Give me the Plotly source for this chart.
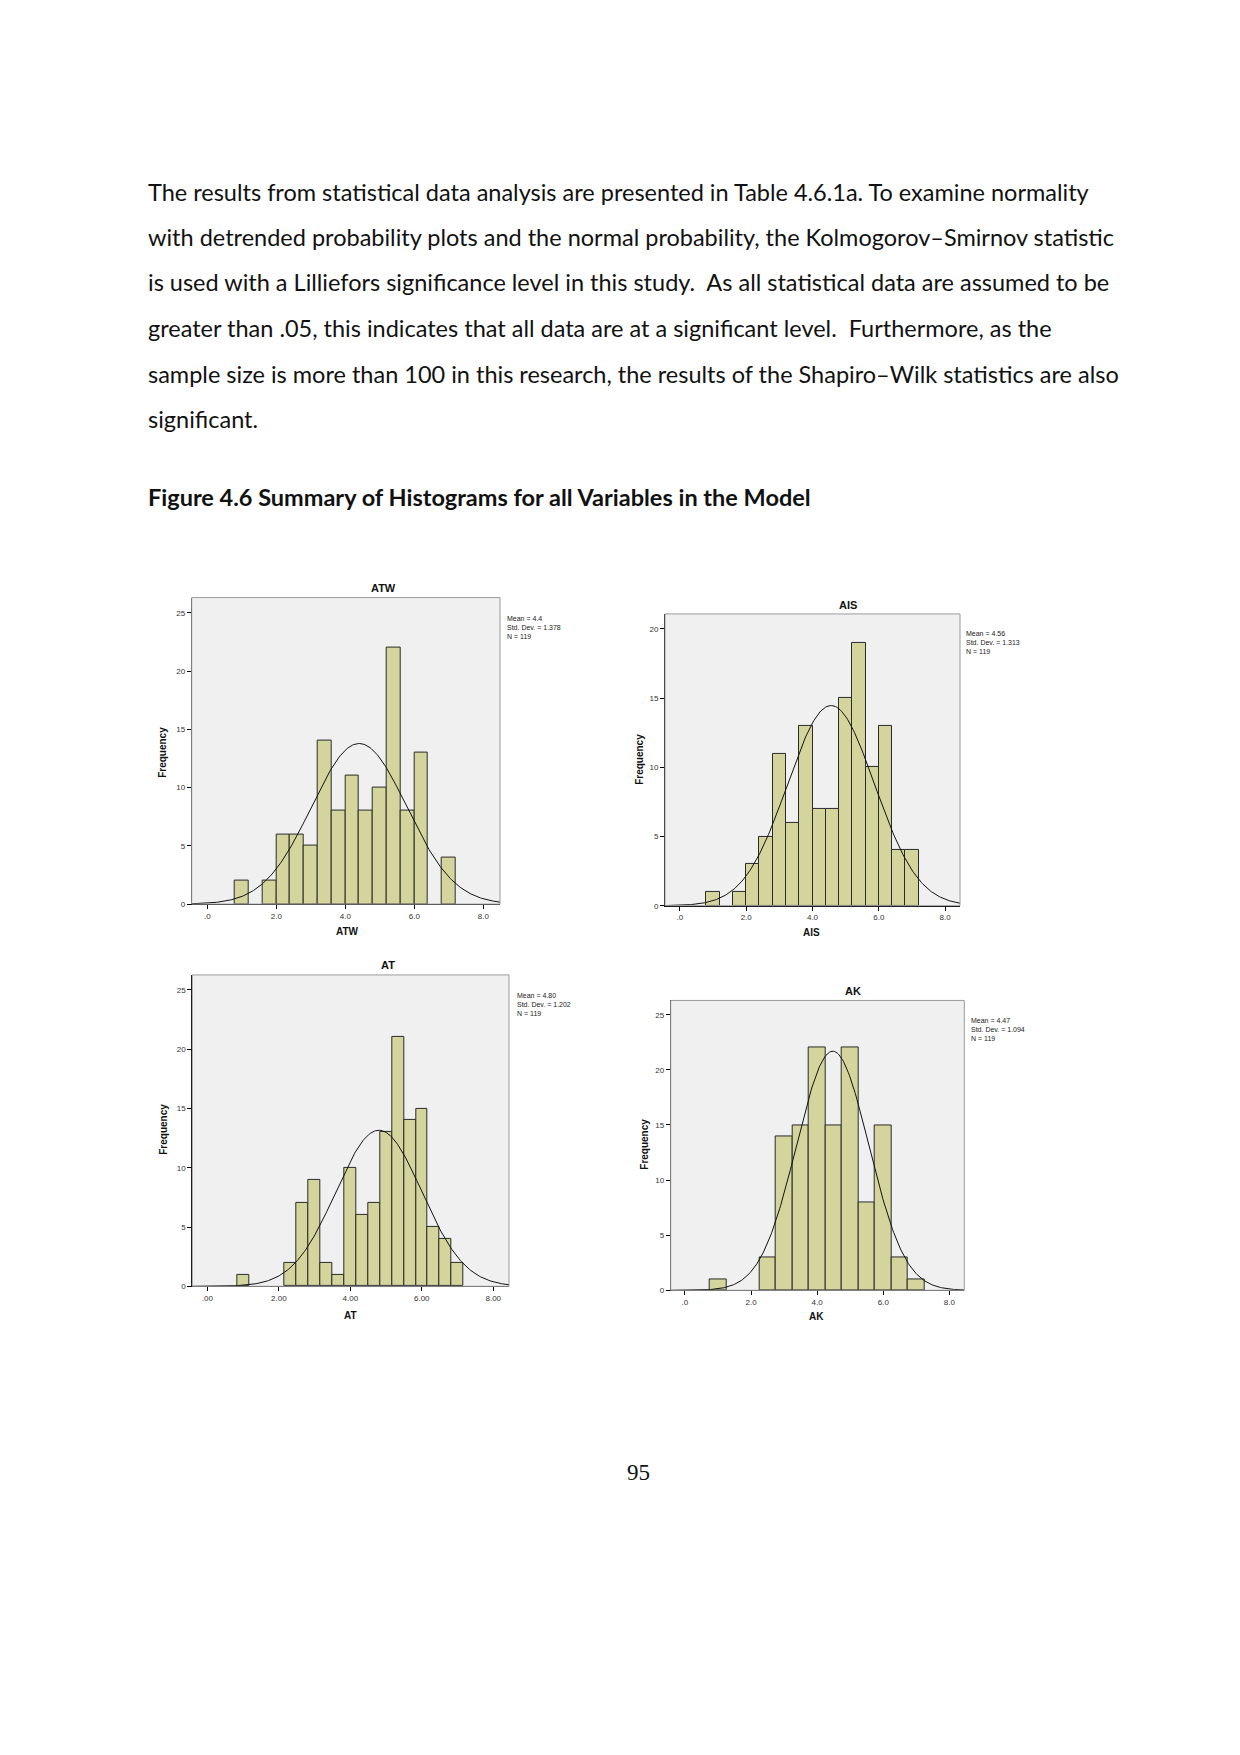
import numpy as np
import plotly.graph_objects as go

W, H = 1240, 1755

# ---------------- data ----------------
atw_centers = [1.0, 1.8, 2.2, 2.6, 3.0, 3.4, 3.8, 4.2, 4.6, 5.0, 5.4, 5.8, 6.2, 7.0]
atw_counts = [2, 2, 6, 6, 5, 14, 8, 11, 8, 10, 22, 8, 13, 4]
atw_stats = dict(mean=4.4, sd=1.378, n=119, bw=0.4, mean_txt="4.4")

ais_centers = [1.0, 1.8, 2.2, 2.6, 3.0, 3.4, 3.8, 4.2, 4.6, 5.0, 5.4, 5.8, 6.2, 6.6, 7.0]
ais_counts = [1, 1, 3, 5, 11, 6, 13, 7, 7, 15, 19, 10, 13, 4, 4]
ais_stats = dict(mean=4.56, sd=1.313, n=119, bw=0.4, mean_txt="4.56")

at_centers = [3/3, 7/3, 8/3, 9/3, 10/3, 11/3, 12/3, 13/3, 14/3, 15/3, 16/3, 17/3, 18/3, 19/3, 20/3, 21/3]
at_counts = [1, 2, 7, 9, 2, 1, 10, 6, 7, 13, 21, 14, 15, 5, 4, 2]
at_stats = dict(mean=4.80, sd=1.202, n=119, bw=1/3, mean_txt="4.80")

ak_centers = [1.0, 2.5, 3.0, 3.5, 4.0, 4.5, 5.0, 5.5, 6.0, 6.5, 7.0]
ak_counts = [1, 3, 14, 15, 22, 15, 22, 8, 15, 3, 1]
ak_stats = dict(mean=4.47, sd=1.094, n=119, bw=0.5, mean_txt="4.47")

x_tickvals = [0, 2, 4, 6, 8]
x_ticks_1 = [".0", "2.0", "4.0", "6.0", "8.0"]
x_ticks_2 = [".00", "2.00", "4.00", "6.00", "8.00"]

paragraph = [
    "The results from statistical data analysis are presented in Table 4.6.1a. To examine normality",
    "with detrended probability plots and the normal probability, the Kolmogorov\u2013Smirnov statistic",
    "is used with a Lilliefors significance level in this study.  As all statistical data are assumed to be",
    "greater than .05, this indicates that all data are at a significant level.  Furthermore, as the",
    "sample size is more than 100 in this research, the results of the Shapiro\u2013Wilk statistics are also",
    "significant.",
]
caption = "Figure 4.6 Summary of Histograms for all Variables in the Model"
page_no = "95"

# ---------------- layout geometry (pixels) ----------------
panels = [
    dict(name="ATW", centers=atw_centers, counts=atw_counts, st=atw_stats, ticks=x_ticks_1,
         box=(191.7, 500, 599.3, 906.7), xr=(-0.45, 8.48), yr=(0, 26.3), yt=[0, 5, 10, 15, 20, 25],
         title=(383, 590), stats=(505, 615), ylab=(163, 755), xlab=(347, 934)),
    dict(name="AIS", centers=ais_centers, counts=ais_counts, st=ais_stats, ticks=x_ticks_1,
         box=(665, 960, 615.7, 908.3), xr=(-0.45, 8.45), yr=(0, 21.08), yt=[0, 5, 10, 15, 20],
         title=(848, 606.5), stats=(964, 630), ylab=(640, 762), xlab=(812, 935)),
    dict(name="AT", centers=at_centers, counts=at_counts, st=at_stats, ticks=x_ticks_2,
         box=(192.3, 509, 977.7, 1290), xr=(-0.42, 8.44), yr=(0, 26.27), yt=[0, 5, 10, 15, 20, 25],
         title=(388, 967.5), stats=(515, 993), ylab=(164, 1133), xlab=(350, 1319)),
    dict(name="AK", centers=ak_centers, counts=ak_counts, st=ak_stats, ticks=x_ticks_1,
         box=(670.7, 964.3, 1003.3, 1294), xr=(-0.43, 8.45), yr=(0, 26.3), yt=[0, 5, 10, 15, 20, 25],
         title=(852.7, 994), stats=(969, 1017.5), ylab=(645, 1148), xlab=(817, 1320.5)),
]


def px(x):
    return x / W


def py(y):
    return 1 - y / H


fig = go.Figure()
annotations = []
shapes = []
layout_axes = {}

BAR_FILL = "#D3D59D"
BG = "#F0F0F0"
TICKFONT = dict(family="Liberation Sans, Arial", size=8, color="#333333")

for i, p in enumerate(panels, start=1):
    xa = "x" if i == 1 else f"x{i}"
    ya = "y" if i == 1 else f"y{i}"
    xkey = "xaxis" if i == 1 else f"xaxis{i}"
    ykey = "yaxis" if i == 1 else f"yaxis{i}"
    x0, x1, y0, y1 = p["box"]
    st = p["st"]

    fig.add_trace(go.Bar(
        x=p["centers"], y=p["counts"], width=st["bw"],
        marker=dict(color=BAR_FILL, line=dict(color="#2a2a2a", width=1)),
        xaxis=xa, yaxis=ya, showlegend=False, hoverinfo="x+y",
    ))
    xs = np.linspace(p["xr"][0], p["xr"][1], 300)
    ys = st["n"] * st["bw"] / (st["sd"] * np.sqrt(2 * np.pi)) * np.exp(-0.5 * ((xs - st["mean"]) / st["sd"]) ** 2)
    fig.add_trace(go.Scatter(
        x=xs, y=ys, mode="lines", line=dict(color="#111111", width=1),
        xaxis=xa, yaxis=ya, showlegend=False, hoverinfo="skip",
    ))

    layout_axes[xkey] = dict(
        domain=[px(x0), px(x1)], range=list(p["xr"]), anchor=ya,
        tickvals=x_tickvals, ticktext=p["ticks"], ticks="outside", ticklen=4, tickangle=0,
        tickcolor="#000000", showline=True, linecolor="#000000", linewidth=1,
        showgrid=False, zeroline=False, tickfont=TICKFONT, fixedrange=True,
    )
    layout_axes[ykey] = dict(
        domain=[py(y1), py(y0)], range=list(p["yr"]), anchor=xa,
        tickvals=p["yt"], ticks="outside", ticklen=4, tickcolor="#000000", tickangle=0,
        showline=True, linecolor="#000000", linewidth=1,
        showgrid=False, zeroline=False, tickfont=TICKFONT, fixedrange=True,
    )

    # frame (top/right border in grey)
    shapes.append(dict(type="rect", xref="paper", yref="paper",
                       x0=px(x0), x1=px(x1), y0=py(y1), y1=py(y0),
                       line=dict(color="#9a9a9a", width=1), layer="above"))

    annotations.append(dict(text=f"<b>{p['name']}</b>", x=px(p["title"][0]), y=py(p["title"][1]),
                            xref="paper", yref="paper", showarrow=False,
                            xanchor="center", yanchor="middle",
                            font=dict(family="Liberation Sans, Arial", size=11, color="#111111")))
    annotations.append(dict(text=f"<b>{p['name']}</b>", x=px(p["xlab"][0]), y=py(p["xlab"][1]),
                            xref="paper", yref="paper", showarrow=False,
                            xanchor="center", yanchor="middle",
                            font=dict(family="Liberation Sans, Arial", size=10, color="#111111")))
    annotations.append(dict(text="<b>Frequency</b>", x=px(p["ylab"][0]), y=py(p["ylab"][1]),
                            xref="paper", yref="paper", showarrow=False, textangle=-90,
                            xanchor="center", yanchor="middle",
                            font=dict(family="Liberation Sans, Arial", size=10, color="#111111")))
    stats_txt = f"Mean = {st['mean_txt']}<br>Std. Dev. = {st['sd']:.3f}<br>N = {st['n']}"
    annotations.append(dict(text=stats_txt, x=px(p["stats"][0]), y=py(p["stats"][1]),
                            xref="paper", yref="paper", showarrow=False,
                            xanchor="left", yanchor="top", align="left",
                            font=dict(family="Liberation Sans, Arial", size=7, color="#222222")))

# ---------------- page text ----------------
line_y = [192.5, 237.5, 283, 329, 375, 420.5]
for txt, yy in zip(paragraph, line_y):
    annotations.append(dict(text=txt, x=px(146), y=py(yy), xref="paper", yref="paper",
                            showarrow=False, xanchor="left", yanchor="middle",
                            font=dict(family="Lato", size=23.5, color="#111111")))
annotations.append(dict(text=f"<b>{caption}</b>", x=px(146), y=py(498), xref="paper", yref="paper",
                        showarrow=False, xanchor="left", yanchor="middle",
                        font=dict(family="Lato", size=23.5, color="#111111")))
annotations.append(dict(text=page_no, x=px(638), y=py(1477), xref="paper", yref="paper",
                        showarrow=False, xanchor="center", yanchor="middle",
                        font=dict(family="Liberation Serif", size=23, color="#111111")))

fig.update_layout(
    width=W, height=H, margin=dict(l=0, r=0, t=0, b=0),
    paper_bgcolor="white", plot_bgcolor=BG, bargap=0,
    annotations=annotations, shapes=shapes, showlegend=False,
    **layout_axes,
)

fig.write_html("out.html")
